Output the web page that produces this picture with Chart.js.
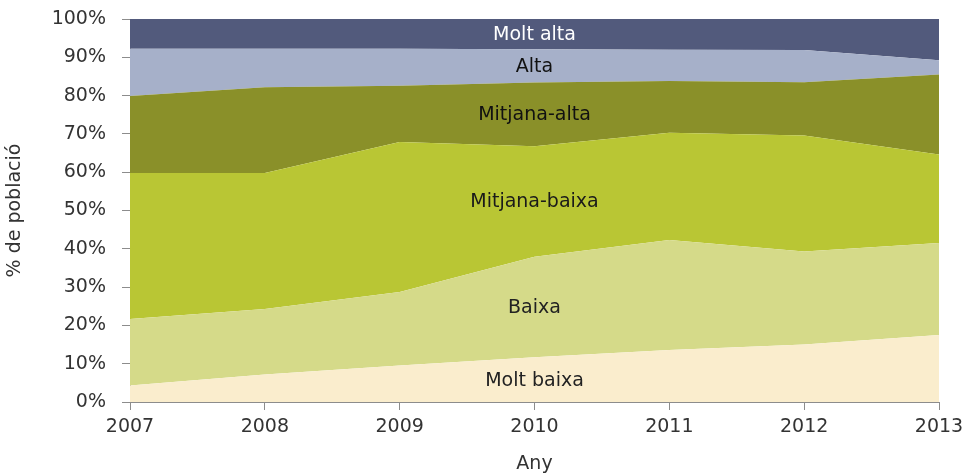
<!DOCTYPE html>
<html>
<head>
<meta charset="utf-8">
<script src="https://cdn.jsdelivr.net/npm/chart.js@4.4.1/dist/chart.umd.min.js"></script>
<style>
  html, body { margin: 0; padding: 0; background: #ffffff; }
  #wrap { width: 965px; height: 475px; }
</style>
</head>
<body>
<div id="wrap"><canvas id="c" width="965" height="475"></canvas></div>
<script>
const years = ['2007', '2008', '2009', '2010', '2011', '2012', '2013'];
const seriesNames = ['Molt baixa', 'Baixa', 'Mitjana-baixa', 'Mitjana-alta', 'Alta', 'Molt alta'];
const moltBaixa    = [4.3, 7.2, 9.5, 11.7, 13.6, 15.0, 17.5];
const baixa        = [17.4, 17.1, 19.2, 26.2, 28.7, 24.3, 24.0];
const mitjanaBaixa = [38.1, 35.5, 39.2, 28.9, 28.0, 30.3, 23.1];
const mitjanaAlta  = [20.1, 22.4, 14.7, 16.6, 13.5, 13.9, 20.9];
const alta         = [12.3, 10.0, 9.6, 8.7, 8.2, 8.4, 3.7];
const moltAlta     = [7.8, 7.8, 7.8, 7.9, 8.0, 8.1, 10.8];
const yTicks = [0, 10, 20, 30, 40, 50, 60, 70, 80, 90, 100];
const labelIndex = 3; // in-area labels sit at year 2010

const values = [moltBaixa, baixa, mitjanaBaixa, mitjanaAlta, alta, moltAlta];
const fills = ['#faedcd', '#d5da89', '#b9c634', '#8a9029', '#a6b0c9', '#525a7c'];
const labelColors = ['#222222', '#222222', '#1a1a1a', '#111111', '#111111', '#ffffff'];
const FONT = '"DejaVu Sans", "Liberation Sans", sans-serif';

const datasets = values.map((v, i) => ({
  label: seriesNames[i],
  data: v,
  backgroundColor: fills[i],
  borderColor: fills[i],
  borderWidth: 0,
  pointRadius: 0,
  tension: 0,
  fill: i === 0 ? 'origin' : '-1'
}));

const areaLabels = {
  id: 'areaLabels',
  afterDatasetsDraw(chart) {
    const ctx = chart.ctx;
    const yScale = chart.scales.y;
    ctx.save();
    ctx.font = '19px ' + FONT;
    ctx.textAlign = 'center';
    ctx.textBaseline = 'middle';
    chart.data.datasets.forEach((ds, i) => {
      const pt = chart.getDatasetMeta(i).data[labelIndex];
      const base = i === 0 ? yScale.getPixelForValue(0) : chart.getDatasetMeta(i - 1).data[labelIndex].y;
      ctx.fillStyle = labelColors[i];
      ctx.fillText(ds.label, pt.x, (pt.y + base) / 2 + 1);
    });
    ctx.restore();
  }
};

new Chart(document.getElementById('c'), {
  type: 'line',
  data: { labels: years, datasets: datasets },
  options: {
    responsive: false,
    animation: false,
    layout: { padding: { top: 19, right: 26, left: 0, bottom: 0 } },
    plugins: { legend: { display: false }, tooltip: { enabled: false } },
    scales: {
      x: {
        offset: false,
        grid: { display: true, drawOnChartArea: false, drawTicks: true, tickLength: 8, color: '#8c8c8c' },
        border: { display: true, color: '#8c8c8c' },
        ticks: { color: '#333333', font: { family: FONT, size: 19 }, padding: 6, maxRotation: 0 },
        title: { display: true, text: 'Any', color: '#333333', font: { family: FONT, size: 19 }, padding: { top: 2, bottom: 0 } },
        afterFit(scale) { scale.height = 73; scale.paddingRight = 0; scale.paddingLeft = 0; }
      },
      y: {
        stacked: true,
        min: 0,
        max: 100,
        afterBuildTicks(scale) { scale.ticks = yTicks.map(v => ({ value: v })); },
        grid: { display: true, drawOnChartArea: false, drawTicks: true, tickLength: 8, color: '#8c8c8c' },
        border: { display: true, color: '#8c8c8c' },
        ticks: { color: '#333333', font: { family: FONT, size: 19 }, padding: 16, callback: v => v + '%' },
        title: { display: true, text: '% de població', color: '#333333', font: { family: FONT, size: 19 }, padding: { top: 4, bottom: 0 } },
        afterFit(scale) { scale.width = 130; scale.paddingTop = 0; scale.paddingBottom = 0; }
      }
    }
  },
  plugins: [areaLabels]
});
</script>
</body>
</html>
